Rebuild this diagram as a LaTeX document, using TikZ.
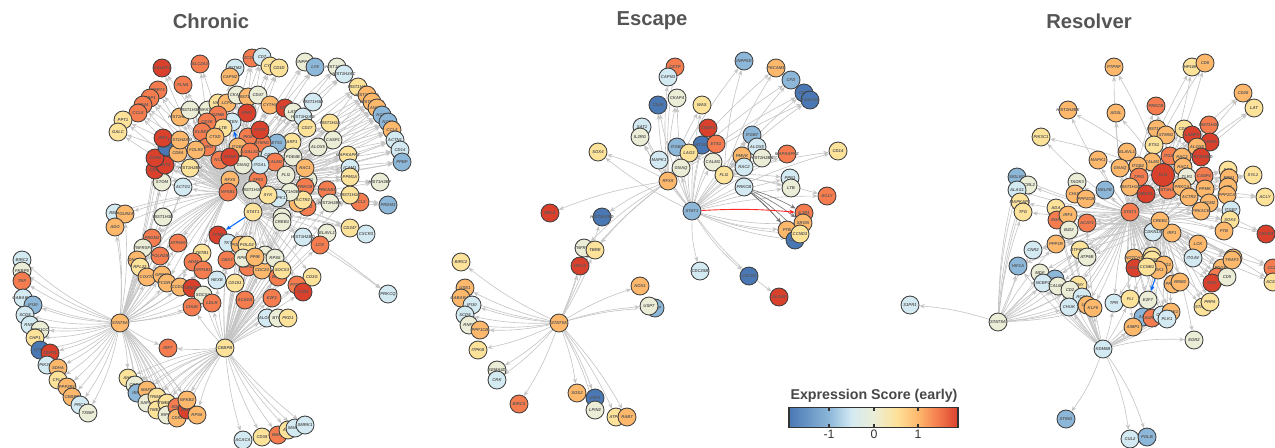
\documentclass[tikz,border=0pt]{standalone}
\usepackage{fontspec}
\setmainfont{Liberation Sans}
\usetikzlibrary{arrows.meta}

% expression colour scale (blue = low, red = high)
\definecolor{c1}{HTML}{4A78B4}
\definecolor{c2}{HTML}{8CB7D9}
\definecolor{c3}{HTML}{D4EAF2}
\definecolor{c4}{HTML}{EBEDD6}
\definecolor{c5}{HTML}{FDE29A}
\definecolor{c6}{HTML}{FDB86C}
\definecolor{c7}{HTML}{F47C4E}
\definecolor{c8}{HTML}{D9412D}
\definecolor{edgegray}{HTML}{C4C4C4}
\definecolor{ttlgray}{HTML}{555555}
\pgfdeclarehorizontalshading{rdylbu}{100bp}{color(0bp)=(c1); color(25bp)=(c1);
  color(36.8bp)=(c2); color(43.5bp)=(c3); color(50.2bp)=(c4); color(56.7bp)=(c5);
  color(63.2bp)=(c6); color(69bp)=(c7); color(75bp)=(c8); color(100bp)=(c8)}

\pgfdeclarelayer{bg}
\pgfsetlayers{bg,main}

% zero-width label, so that every circle keeps one size
\newcommand{\gl}[1]{\makebox[0pt]{#1}}

\tikzset{
  gn/.style={circle, draw=black!75, line width=0.5pt, minimum size=0.36cm, inner sep=0pt,
    font=\fontsize{2.4}{3}\selectfont\bfseries\itshape, text=black!65},
  ed/.style={draw=edgegray, line width=0.35pt, -{Stealth[length=3pt,width=2.4pt]}},
  edk/.style={ed, draw=black!55},
  ttl/.style={font=\fontsize{11.5}{14}\selectfont\bfseries, text=ttlgray},
  cbar/.style={draw=black!80, line width=0.7pt, shading=rdylbu, minimum width=3.38cm,
    minimum height=0.39cm, inner sep=0pt},
}

\begin{document}
\begin{tikzpicture}[x=0.02cm, y=-0.02cm]
\useasboundingbox (0,0) rectangle (1275,447);

% panel titles
\node[ttl] (tChr) at (211,21) {Chronic};
\node[ttl] (tEsc) at (652,21) {Escape};
\node[ttl] (tRes) at (1089,21) {Resolver};

%% ---------------- Chronic ----------------
% crown of targets
\foreach \n/\x/\y/\c/\t in {1/162/68/c8/GALNT1, 2/200/64/c7/SLC2A3, 3/235/68/c3/IFITM2,
  4/252/58/c7/ZC3HC1, 5/262/57/c3/CD7, 6/270/66/c5/CYBB, 7/279/68/c5/CD1D, 8/305/62/c4/INPP4B,
  9/315/67/c2/LY9, 10/337/67/c4/HIST1H2AE, 11/344/74/c3/HIST1H2AC, 12/230/77/c6/CAPN2,
  13/183/85/c7/FLNA, 14/158/90/c7/NPRT1, 15/150/98/c7/GBP1, 16/143/105/c7/CD44,
  17/138/113/c7/CCL5, 18/123/120/c5/PPT1, 19/118/132/c5/GALC, 20/358/87/c5/HIST1H4C,
  21/367/95/c6/HIST1H2BD, 22/372/102/c6/HIST1H2BC, 23/377/108/c6/ANXA1, 24/382/115/c2/NCF2,
  25/388/122/c2/NCF1, 26/392/130/c6/CCL4, 27/395/140/c3/ACTN1, 28/400/150/c3/CD14,
  29/402/162/c2/PPBP, 30/313/102/c3/HIST1H3D, 31/330/123/c5/HIST1H1E, 32/333/140/c4/CASP1,
  33/318/147/c4/ALOX5, 34/348/155/c5/MAPKAPK2, 35/350/168/c3/ICAM1, 36/350/177/c5/PPM1A,
  37/380/182/c4/HIST1H2BF, 38/388/205/c2/PRDM1, 39/360/202/c7/CCL3, 40/350/195/c5/HIST1H1C,
  41/327/190/c7/PRKAB1, 42/330/203/c4/HIST1H2BK, 43/307/207/c7/EZH2, 44/298/203/c6/CD2,
  45/308/180/c4/TLR1, 46/305/187/c7/PRKCB, 47/303/200/c5/ACTR2, 48/290/192/c4/HIST1H2BJ,
  49/278/198/c3/MAPK1, 50/268/195/c5/SYK, 51/258/180/c7/TP53, 52/252/190/c4/HIST1H1D,
  53/282/217/c4/CALM1, 54/190/168/c5/HIST1H2BH, 55/183/187/c3/ACTG1, 56/162/182/c4/STOM,
  57/155/170/c8/CD38, 58/165/165/c8/AKT3, 59/155/158/c8/CCR5, 60/167/147/c1/AKT1,
  61/163/138/c8/IRF4, 62/178/153/c6/CD8A, 63/180/140/c6/HIST1H2AM, 64/180/117/c6/HIST1H2AK,
  65/190/110/c4/HIST1H3H, 66/208/110/c4/NFATC1, 67/218/103/c5/VAV1, 68/227/103/c6/LCP2,
  69/237/95/c4/CKAP4, 70/248/97/c6/HIST1H1B, 71/258/95/c4/CD47, 72/270/105/c6/CYTH4,
  73/285/108/c8/CD69, 74/293/112/c4/LAT2, 75/303/117/c3/HIST1H2AG, 76/307/128/c5/CD27,
  77/292/142/c5/ARF1, 78/293/157/c4/PDE4B, 79/305/168/c6/RAC1, 80/277/143/c2/ETS1,
  81/262/143/c7/STMN1, 82/248/137/c7/PKM, 83/260/130/c8/CCR7, 84/247/113/c8/IFNG,
  85/232/122/c3/PTEN, 86/218/115/c7/GZMB, 87/223/128/c5/LTB, 88/207/122/c7/CD3E,
  89/202/132/c7/KLRD1, 90/207/147/c7/IL2RG, 91/215/137/c6/CTSD, 92/196/150/c6/FOLR2,
  93/238/147/c6/ITGB2, 94/250/152/c7/LGALS1, 95/270/155/c3/CD3D, 96/275/162/c7/CALM2,
  97/260/165/c3/ITGAL, 98/243/165/c4/GNAQ, 99/220/160/c7/NCF4, 100/230/157/c8/CMAH,
  101/350/228/c5/CD247, 102/366/234/c3/CXCR3, 103/388/294/c3/PRKCQ}
  \node[gn, fill=\c] (ct\n) at (\x,\y) {\gl{\t}};
% middle and lower targets
\foreach \n/\x/\y/\c/\t in {1/115/213/c3/RELA, 2/125/214/c6/POLR2A, 3/115/227/c6/ADO,
  4/163/217/c4/HIST1H3B, 5/152/238/c7/PRDM2, 6/143/248/c4/TNFRSF4, 7/160/256/c7/POLR2B,
  8/137/260/c6/DNAJC3, 9/140/267/c5/RPL22, 10/147/277/c6/COX7C, 11/162/275/c6/GPR18,
  12/167/283/c6/FCGR3A, 13/180/287/c6/CCDC50, 14/192/288/c8/UBE2C, 15/178/243/c7/ATP6V0,
  16/202/253/c5/ZBTB1, 17/193/262/c7/ADM, 18/203/270/c7/ATP1B1, 19/218/235/c8/TYMS,
  20/228/243/c3/TKT, 21/240/245/c6/POLR3G, 22/247/245/c5/POLD2, 23/227/260/c7/CBX3,
  24/248/267/c7/GAPDH, 25/243/258/c4/RPN2, 26/217/280/c3/HEXB, 27/235/283/c5/CD151,
  28/262/270/c6/CDC20, 29/265/255/c4/RPN1, 30/275/258/c4/RPS6, 31/278/277/c7/BCHE,
  32/282/270/c5/SOCS3, 33/255/257/c6/PPIB, 34/303/237/c3/HIST1H2BO, 35/327/233/c4/ELAVL1,
  36/320/245/c7/LCK, 37/312/277/c5/CD3G, 38/297/285/c7/PTGS2, 39/303/292/c8/CCR1,
  40/282/222/c4/CREB1, 41/203/295/c4/SOCS1, 42/212/303/c7/LDLR, 43/192/307/c7/CHUK,
  44/245/300/c7/ACADS, 45/272/298/c7/E2F1, 46/267/318/c3/ALOX12, 47/278/318/c4/BTG1,
  48/288/318/c5/PKD1, 49/168/348/c7/IRF7}
  \node[gn, fill=\c] (cm\n) at (\x,\y) {\gl{\t}};
% left arc
\foreach \n/\x/\y/\c/\t in {1/22/260/c3/BIRC2, 2/22/271/c4/FKBP5, 3/22/281/c7/TNF,
  4/23/298/c3/GABARAP, 5/33/305/c2/IFI30, 6/25/315/c3/SCD5, 7/30/325/c3/RNF2,
  8/40/330/c4/PPP1CC, 9/35/338/c5/CHP1, 10/40/350/c1/UTRN, 11/50/353/c8/CEPT1,
  12/47/365/c3/PIK3CD, 13/58/368/c6/SDHA, 14/58/380/c5/CFL1, 15/67/387/c6/PPP2R1,
  16/72/397/c6/CEBPD, 17/80/405/c3/PRC1, 18/88/413/c4/TXNIP}
  \node[gn, fill=\c] (cl\n) at (\x,\y) {\gl{\t}};
% bottom cluster
\foreach \n/\x/\y/\c/\t in {1/128/378/c5/AHR, 2/135/385/c4/CDP3, 3/137/393/c2/IRF1,
  4/147/390/c6/MAFF, 5/147/403/c4/SAP30, 6/157/397/c5/TRIM22, 7/157/410/c5/TMEM2,
  8/167/403/c5/TMEM50, 9/167/415/c4/RIPK2, 10/177/407/c7/SOD2, 11/177/418/c6/CD83,
  12/187/410/c8/RELB, 13/197/415/c6/RPS6, 14/187/400/c6/NFKB2}
  \node[gn, fill=\c] (cb\n) at (\x,\y) {\gl{\t}};
\foreach \n/\x/\y/\c/\t in {1/243/440/c3/ACACA, 2/262/437/c5/CD38, 3/278/435/c7/BMP2,
  4/288/430/c5/ATF3, 5/295/428/c3/SMAD3, 6/305/425/c3/SMRK1}
  \node[gn, fill=\c] (cr\n) at (\x,\y) {\gl{\t}};
% hubs
\node[gn, fill=c6] (cRF) at (230,180) {\gl{RFX5}};
\node[gn, fill=c7] (cNF) at (228,192) {\gl{NFKB1}};
\node[gn, fill=c4] (cFL) at (286,175) {\gl{FLI1}};
\node[gn, fill=c5] (cS1) at (253,212) {\gl{STAT1}};
\node[gn, fill=c6] (cS5) at (120,323) {\gl{STAT5A}};
\node[gn, fill=c5] (cKD) at (225,348) {\gl{CEBPB}};

%% ---------------- Escape ----------------
\foreach \n/\x/\y/\c/\t in {1/675/67/c7/CETP, 2/668/77/c3/CAPN3, 3/744/61/c2/INPP5D,
  4/776/68/c6/PECAM1, 5/791/80/c2/CFD, 6/804/93/c1/CD36, 7/810/100/c1/LGALS3,
  8/677/98/c4/CKAP4, 9/658/105/c1/CD48, 10/702/105/c5/WAS, 11/708/128/c8/CNDP2,
  12/642/127/c3/SAT1, 13/640/137/c4/IL2RG, 14/752/135/c2/ITGB7, 15/757/147/c3/ALOX5,
  16/677/147/c2/ITGB2, 17/702/145/c1/MTSS1, 18/716/144/c7/ETS1, 19/689/153/c5/LAG3,
  20/598/152/c5/SOX4, 21/659/160/c3/MAPK1, 22/713/162/c4/CALM1, 23/681/168/c4/GNAQ,
  24/742/156/c6/PMVK, 25/762/158/c4/HIST1H2BK, 26/744/167/c3/RAC2, 27/787/154/c7/MAPKAPK2,
  28/838/151/c5/CD14, 29/790/178/c3/PPN1, 30/791/188/c4/LTB, 31/827/196/c7/ACLY,
  32/550/213/c8/RELA, 33/602/217/c1/HIST1H2BD, 34/804/213/c7/IL1R1, 35/803/223/c6/SRGN,
  36/787/230/c6/PTB, 37/795/240/c1/CCR7, 38/800/234/c5/CCND3, 39/700/271/c3/CDC25B,
  40/749/276/c1/CXCR4, 41/779/297/c8/ALDH2, 42/584/248/c4/TNFRSF1, 43/595/250/c5/TBRE,
  44/580/266/c8/HIF1A}
  \node[gn, fill=\c] (et\n) at (\x,\y) {\gl{\t}};
\foreach \n/\x/\y/\c/\t in {1/461/262/c5/BIRC2, 2/465/288/c6/USE1, 3/461/298/c6/GABARAP,
  4/472/305/c3/IFI30, 5/465/315/c3/SCD5, 6/469/325/c4/RNF2, 7/480/330/c6/PPP1CB,
  8/478/350/c5/ITPKB, 9/497/370/c4/SEMA4D, 10/497/380/c3/CRK, 11/519/404/c7/BIRC3,
  12/577/393/c6/SOS2, 13/595/398/c1/USP3, 14/595/410/c4/LPIN2, 15/616/417/c5/ATP6V,
  16/627/417/c6/RAB7, 17/640/286/c6/NOX1, 18/655/308/c2/TXNIP, 19/649/306/c4/USP7}
  \node[gn, fill=\c] (el\n) at (\x,\y) {\gl{\t}};
\node[gn, fill=c6] (eRF) at (668,181) {\gl{RFX5}};
\node[gn, fill=c5] (eFL) at (724,175) {\gl{FLI1}};
\node[gn, fill=c3] (ePK) at (744,187) {\gl{PRKCB}};
\node[gn, fill=c2] (eS1) at (692,211) {\gl{STAT1}};
\node[gn, fill=c6] (eS5) at (559,323) {\gl{STAT5A}};

%% ---------------- Resolver ----------------
\foreach \n/\x/\y/\c/\t in {1/1114/67/c6/PTPRF, 2/1192/67/c5/HP1BP3, 3/1205/63/c6/CD6,
  4/1243/93/c6/CD28, 5/1254/108/c5/LAT, 6/1068/110/c6/HIST1H2BK, 7/1116/113/c6/ADSL,
  8/1156/106/c7/PRKCB, 9/1041/137/c5/PIK3C1, 10/1157/129/c6/HIST1H4C, 11/1166/135/c6/STMN1,
  12/1184/129/c5/CD27, 13/1192/135/c8/LAMP3, 14/1209/125/c7/HIST1H1B, 15/1210/142/c8/CASP1,
  16/1154/145/c5/ETS1, 17/1197/147/c6/ALOX5, 18/1201/157/c8/HIST1H2BD, 19/1127/152/c6/ELAVL1,
  20/1098/160/c6/MAPK1, 21/1120/168/c6/GNAQ, 22/1170/156/c7/ITGAL, 23/1152/162/c6/CALM1,
  24/1182/157/c6/RAC2, 25/1183/167/c6/RAC1, 26/1138/166/c6/ITGB2, 27/1139/177/c7/TP53,
  28/1187/177/c4/TLR1, 29/1204/176/c7/CASP4, 30/1228/170/c5/FOS, 31/1229/178/c6/PPN1,
  32/1228/187/c6/LTB, 33/1253/175/c5/SYL1, 34/1265/197/c5/ACLY, 35/1266/234/c8/CXCR4,
  36/1017/177/c2/SIGLEC, 37/1028/185/c4/CCRL2, 38/1017/190/c3/ALAS1, 39/1020/202/c5/MAPKAP1,
  40/1023/212/c5/TFG, 41/1105/190/c2/NELFB, 42/1077/182/c4/TAOK3, 43/1075/194/c6/CHUK,
  44/1086/199/c6/PPP2CB, 45/1130/187/c6/HIST1H1C, 46/1146/194/c8/MRCKL, 47/1168/190/c7/HIST1H2AC,
  48/1182/187/c6/PRKCA, 49/1189/197/c6/ACTR2, 50/1205/189/c6/PPMK, 51/1209/203/c6/MCM2,
  52/1227/195/c6/PPP2CA, 53/1056/208/c5/ADA, 54/1057/220/c7/EGR1, 55/1068/215/c6/IRF4,
  56/1069/230/c4/BID2, 57/1087/223/c7/ACAT1, 58/1153/232/c3/CDKN1A, 59/1172/233/c6/IRF1,
  60/1201/211/c6/PRKACB, 61/1231/210/c3/ITGB7, 62/1230/220/c5/SOX4, 63/1224/231/c6/PTB,
  64/1198/244/c6/LCK, 65/1233/258/c6/TRAF1, 66/1033/250/c3/CNR2, 67/1056/244/c6/PPP1R,
  68/1080/250/c5/ATP6V1B, 69/1087/257/c4/ATP5B, 70/1134/258/c6/NOTCH1, 71/1152/256/c5/PHR1,
  72/1193/258/c3/ITGAV}
  \node[gn, fill=\c] (rt\n) at (\x,\y) {\gl{\t}};
\foreach \n/\x/\y/\c/\t in {1/1018/266/c2/HIF1A, 2/1040/273/c4/MDF, 3/1055/279/c2/TCF7,
  4/1043/283/c3/NCBP2, 5/1058/286/c4/CALML4, 6/1078/285/c5/FCNY, 7/1070/290/c4/CD2,
  8/1082/297/c3/RCC1, 9/1087/305/c6/USP7, 10/1093/308/c6/KLF6, 11/1069/307/c3/CHUK,
  12/910/305/c3/S1PR1, 13/1135/268/c8/CDC20, 14/1152/260/c5/MKI67, 15/1164/265/c6/STAG2,
  16/1158/270/c6/CDK1, 17/1147/267/c5/CCNB1, 18/1114/303/c3/TPR, 19/1130/299/c5/FLI,
  20/1148/300/c4/E2F7, 21/1143/317/c2/ALB, 22/1152/318/c7/AURKA, 23/1162/315/c3/CDC6,
  24/1171/312/c6/CHEK1, 25/1167/319/c3/PLK1, 26/1133/327/c6/AIMP1, 27/1173/284/c6/PRKCD,
  28/1180/282/c6/RRM2, 29/1222/268/c6/PDGFB, 30/1232/260/c6/TRAF3, 31/1217/277/c7/LAT1,
  32/1212/283/c8/MYC, 33/1227/277/c4/CD5, 34/1203/307/c5/STAT5B, 35/1210/302/c5/PRPA,
  36/1273/268/c7/CCL2, 37/1273/282/c5/ACSL1, 38/1194/340/c4/EGR2, 39/1066/419/c2/STING,
  40/1130/439/c3/CUL2, 41/1147/437/c2/POLB}
  \node[gn, fill=\c] (rl\n) at (\x,\y) {\gl{\t}};
\node[gn, fill=c7] (rS1) at (1130,212) {\gl{STAT1}};
\node[gn, fill=c6] (rCR) at (1160,221) {\gl{CREB1}};
\node[gn, fill=c8, minimum size=0.46cm] (rFL) at (1163,175) {\gl{FLI1}};
\node[gn, fill=c4] (rS5) at (998,322) {\gl{STAT5A}};
\node[gn, fill=c3] (rKD) at (1103,349) {\gl{KDM5B}};

%% ---------------- edges (behind nodes) ----------------
\begin{pgfonlayer}{bg}
  % chronic
  \foreach \i in {1,...,103} \draw[ed] (cNF) to[bend left=6] (ct\i);
  \foreach \i in {1,...,29} \draw[ed] (cRF) to[bend right=5] (ct\i);
  \foreach \i in {54,...,72} \draw[ed] (cRF) to[bend right=5] (ct\i);
  \foreach \i in {30,...,53} \draw[ed] (cS1) to[bend left=5] (ct\i);
  \foreach \i in {73,...,103} \draw[ed] (cS1) to[bend left=5] (ct\i);
  \foreach \i in {20,...,39} \draw[ed] (cFL) to[bend right=4] (ct\i);
  \foreach \i in {1,...,18} \draw[ed] (cNF) to[bend right=6] (cm\i);
  \foreach \i in {20,...,40} \draw[ed] (cS1) to[bend left=6] (cm\i);
  \foreach \i in {1,...,18} \draw[ed] (cS5) to[bend left=8] (cl\i);
  \foreach \i in {1,...,14} \draw[ed] (cS5) to[bend left=6] (cb\i);
  \foreach \i in {1,...,18} \draw[ed] (cS5) to[bend right=6] (cm\i);
  \foreach \i in {41,42,43,49} \draw[ed] (cS5) to[bend right=6] (cm\i);
  \foreach \i in {54,...,62} \draw[ed] (cS5) to[bend right=4] (ct\i);
  \foreach \i in {1,...,14} \draw[ed] (cKD) to[bend right=8] (cb\i);
  \foreach \i in {1,...,6} \draw[ed] (cKD) to[bend right=5] (cr\i);
  \foreach \i in {20,...,49} \draw[ed] (cKD) to[bend left=4] (cm\i);
  \foreach \i in {40,...,53} \draw[ed] (cKD) to[bend left=4] (ct\i);
  \draw[ed, draw=blue!60!cyan, line width=0.6pt] (cS1) to (cm19);
  \draw[ed, draw=blue!60!cyan, line width=0.6pt] (ct93) to (ct85);
  % escape
  \foreach \i in {8,...,31} \draw[ed] (eS1) to[bend left=6] (et\i);
  \foreach \i in {35,...,41} \draw[ed] (eS1) to[bend right=8] (et\i);
  \foreach \i in {1,...,13} \draw[ed] (eRF) to[bend left=5] (et\i);
  \foreach \i in {20,32,33,42,43,44} \draw[ed] (eRF) to[bend right=6] (et\i);
  \foreach \i in {3,...,7} \draw[ed] (eFL) to[bend left=6] (et\i);
  \foreach \i in {14,15,24,25,26,27,28,29,30,31} \draw[ed] (eFL) to[bend left=4] (et\i);
  \foreach \i in {34,...,38} \draw[edk] (ePK) to[bend left=5] (et\i);
  \foreach \i in {1,...,19} \draw[ed] (eS5) to[bend left=6] (el\i);
  \foreach \i in {33,42,43,44} \draw[ed] (eS5) to[bend right=4] (et\i);
  \draw[ed, draw=red!85, line width=0.5pt] (eS1) to[bend left=4] (et34);
  % resolver
  \foreach \i in {1,...,72} \draw[ed] (rS1) to[bend left=6] (rt\i);
  \foreach \i in {1,...,11} \draw[ed] (rS1) to[bend left=5] (rl\i);
  \foreach \i in {13,...,37} \draw[ed] (rS1) to[bend right=5] (rl\i);
  \foreach \i in {1,...,35} \draw[ed] (rFL) to[bend right=5] (rt\i);
  \foreach \i in {45,...,72} \draw[ed] (rCR) to[bend left=5] (rt\i);
  \foreach \i in {13,...,38} \draw[ed] (rCR) to[bend left=5] (rl\i);
  \foreach \i in {1,...,11} \draw[ed] (rKD) to[bend left=6] (rl\i);
  \foreach \i in {18,...,26} \draw[ed] (rKD) to[bend right=4] (rl\i);
  \foreach \i in {38,...,41} \draw[ed] (rKD) to[bend left=8] (rl\i);
  \foreach \i in {53,...,57} \draw[ed] (rKD) to[bend left=5] (rt\i);
  \foreach \i in {1,...,12} \draw[ed] (rS5) to[bend right=6] (rl\i);
  \foreach \i in {36,...,40} \draw[ed] (rS5) to[bend left=6] (rt\i);
  \foreach \i in {66,...,69} \draw[ed] (rS5) to[bend left=5] (rt\i);
  \draw[ed, draw=blue!60!cyan, line width=0.6pt] (rl16) to (rl20);
\end{pgfonlayer}

%% ---------------- colour legend ----------------
\node[font=\fontsize{8.1}{10}\selectfont\bfseries, text=black!72] (lgT) at (874,396) {Expression Score (early)};
\node[cbar] (lgBar) at (873.5,417.5) {};
\foreach \x/\v in {829/-1, 874/0, 918/1}{
  \draw[black!80, line width=0.6pt] (\x,408) -- (\x,411) (\x,424) -- (\x,427);
  \node[font=\fontsize{7}{8}\selectfont, text=black!80] (lg\v) at (\x,434) {\v};
}
\end{tikzpicture}
\end{document}
